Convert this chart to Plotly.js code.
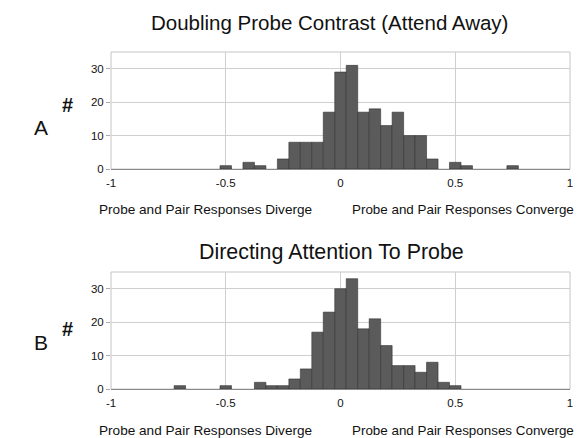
<!DOCTYPE html>
<html>
<head>
<meta charset="utf-8">
<script src="https://cdn.plot.ly/plotly-3.0.1.min.js"></script>
<style>html,body{margin:0;padding:0;background:#fff;}#chart{width:577px;height:438px;}</style>
</head>
<body>
<div id="chart"></div>
<script>
// Bin centers (bin width 0.05) and counts
var binsA = [-0.5, -0.4, -0.35, -0.25, -0.2, -0.15, -0.1, -0.05, 0, 0.05, 0.1, 0.15, 0.2, 0.25, 0.3, 0.35, 0.4, 0.5, 0.55, 0.75];
var countsA = [1, 2, 1, 3, 8, 8, 8, 17, 29, 31, 17, 18, 13, 17, 10, 10, 3, 2, 1, 1];
var binsB = [-0.7, -0.5, -0.35, -0.3, -0.25, -0.2, -0.15, -0.1, -0.05, 0, 0.05, 0.1, 0.15, 0.2, 0.25, 0.3, 0.35, 0.4, 0.45, 0.5];
var countsB = [1, 1, 2, 1, 1, 3, 6, 17, 23, 30, 33, 18, 21, 13, 7, 7, 5, 8, 2, 1];
var binWidth = 0.05;
var xTicks = [-1, -0.5, 0, 0.5, 1];
var xTickLabels = ['-1', '-0.5', '0', '0.5', '1'];
var yTicks = [0, 10, 20, 30];
var titleA = 'Doubling Probe Contrast (Attend Away)';
var titleB = 'Directing Attention To Probe';
var leftLabel = 'Probe and Pair Responses Diverge';
var rightLabel = 'Probe and Pair Responses Converge';

var W = 577, H = 438;
function px(x) { return x / W; }
function py(y) { return 1 - y / H; }

var barStyle = {color: '#5b5b5b', line: {color: '#333', width: 0.6}};
var traces = [
  {type: 'bar', x: binsA, y: countsA, width: binWidth, marker: barStyle, xaxis: 'x', yaxis: 'y', hoverinfo: 'x+y'},
  {type: 'bar', x: binsB, y: countsB, width: binWidth, marker: barStyle, xaxis: 'x2', yaxis: 'y2', hoverinfo: 'x+y'}
];

var fam = 'Liberation Sans, Arial, sans-serif';
function xax(anchor) {
  return {
    domain: [px(111), px(570)], range: [-1, 1], anchor: anchor,
    tickvals: xTicks, ticktext: xTickLabels, ticks: '', ticklabelstandoff: 3,
    showgrid: true, gridcolor: '#cfcfcf',
    zeroline: false, showline: true, linecolor: '#8a8a8a', linewidth: 1,
    tickfont: {family: fam, size: 11.5, color: '#111'}, fixedrange: true
  };
}
function yax(anchor, top, bottom) {
  return {
    domain: [py(bottom), py(top)], range: [0, 35], anchor: anchor,
    tickvals: yTicks, ticks: 'outside', ticklen: 4, tickcolor: '#aaa', showgrid: true, gridcolor: '#cfcfcf',
    zeroline: false, showline: false,
    tickfont: {family: fam, size: 11.5, color: '#111'}, fixedrange: true
  };
}

function ann(text, x, y, size, xanchor) {
  return {text: text, xref: 'paper', yref: 'paper', x: px(x), y: py(y), xanchor: xanchor || 'center', yanchor: 'middle',
          showarrow: false, font: {family: fam, size: size, color: '#111'}};
}

var layout = {
  width: W, height: H, margin: {l: 0, r: 0, t: 0, b: 0}, paper_bgcolor: '#fff', plot_bgcolor: '#fff',
  showlegend: false, bargap: 0,
  xaxis: xax('y'), yaxis: yax('x', 52, 169),
  xaxis2: xax('y2'), yaxis2: yax('x2', 272, 389),
  shapes: [
    {type: 'rect', xref: 'x domain', yref: 'y domain', x0: 0, x1: 1, y0: 0, y1: 1, line: {color: '#c4c4c4', width: 1}, layer: 'below'},
    {type: 'rect', xref: 'x2 domain', yref: 'y2 domain', x0: 0, x1: 1, y0: 0, y1: 1, line: {color: '#c4c4c4', width: 1}, layer: 'below'}
  ],
  annotations: [
    ann(titleA, 329, 22, 20.5),
    ann(titleB, 331, 252, 21.4),
    ann('A', 41, 127, 21),
    ann('B', 41, 342, 21),
    ann('<b>#</b>', 67, 105, 20),
    ann('<b>#</b>', 67, 329, 20),
    ann(leftLabel, 97, 209, 13.6, 'left'),
    ann(rightLabel, 576, 209, 13.4, 'right'),
    ann(leftLabel, 97, 430, 13.6, 'left'),
    ann(rightLabel, 576, 430, 13.4, 'right')
  ]
};

Plotly.newPlot('chart', traces, layout, {displayModeBar: false, staticPlot: true});
</script>
</body>
</html>
